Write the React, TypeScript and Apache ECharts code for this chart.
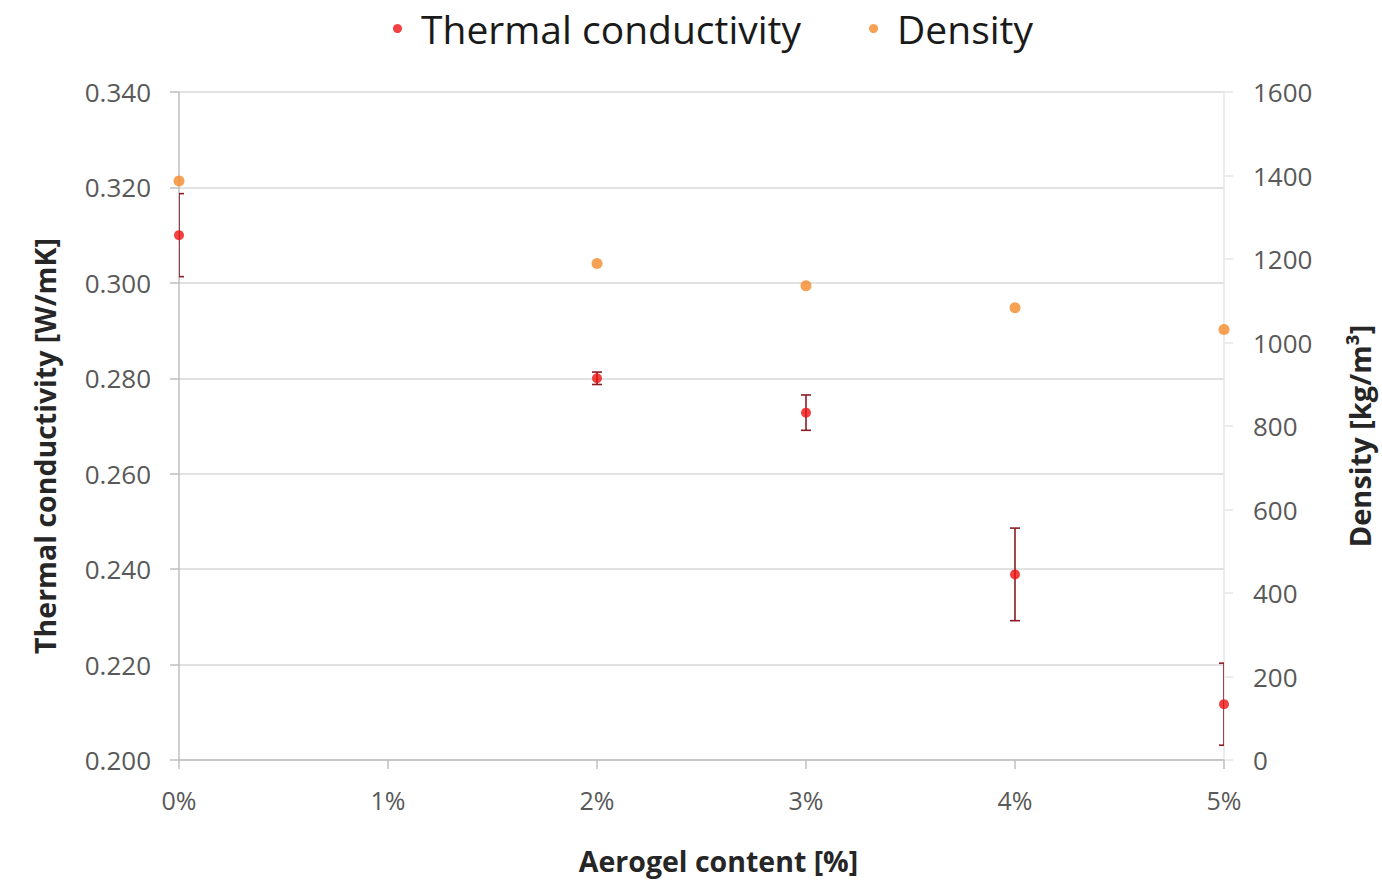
import React, { useEffect, useRef } from "react";
import * as echarts from "echarts";

const aerogelContent = [0, 2, 3, 4, 5];
const conductivity = [0.31, 0.28, 0.2728, 0.2389, 0.2117];
const conductivityErr = [0.0087, 0.0013, 0.0037, 0.0097, 0.0086];
const density = [1387, 1189, 1136, 1083, 1031];

const FONT = "Open Sans";

export default function App() {
  const ref = useRef<HTMLDivElement>(null);
  useEffect(() => {
    document.body.style.margin = "0";
    const chart = echarts.init(ref.current!, null, { renderer: "svg" });
    const condData = aerogelContent.map((x, i) => [x, conductivity[i]]);
    const densData = aerogelContent.map((x, i) => [x, density[i]]);
    const errData = aerogelContent.map((x, i) => [
      x,
      conductivity[i] - conductivityErr[i],
      conductivity[i] + conductivityErr[i],
    ]);
    chart.setOption({
      animation: false,
      backgroundColor: "#ffffff",
      legend: {
        top: 4,
        left: 388,
        itemWidth: 9,
        itemHeight: 9,
        itemGap: 68,
        textStyle: {
          fontFamily: FONT,
          fontSize: 39,
          color: "#1a1a1a",
          padding: [0, 0, 0, 14],
        },
        data: [
          { name: "Thermal conductivity", icon: "circle" },
          { name: "Density", icon: "circle" },
        ],
      },
      grid: { left: 179, right: 155, top: 92, bottom: 119, containLabel: false },
      xAxis: {
        type: "value",
        min: 0,
        max: 5,
        interval: 1,
        name: "Aerogel content [%]",
        nameLocation: "middle",
        nameGap: 86,
        nameTextStyle: {
          fontFamily: FONT,
          fontSize: 28.5,
          fontWeight: "bold",
          color: "#262626",
          padding: [0, 0, 0, 34],
        },
        axisLine: { show: true, lineStyle: { color: "#bfbfbf", width: 1.5 } },
        axisTick: { show: true, length: 9, lineStyle: { color: "#bfbfbf", width: 1.5 } },
        axisLabel: {
          margin: 27,
          fontFamily: FONT,
          fontSize: 25,
          color: "#595959",
          formatter: (v: number) => `${v}%`,
        },
        splitLine: { show: false },
      },
      yAxis: [
        {
          type: "value",
          min: 0.2,
          max: 0.34,
          interval: 0.02,
          position: "left",
          name: "Thermal conductivity [W/mK]",
          nameLocation: "middle",
          nameRotate: 90,
          nameGap: 120,
          nameTextStyle: {
            fontFamily: FONT,
            fontSize: 28.5,
            fontWeight: "bold",
            color: "#262626",
            padding: [0, 40, 0, 0],
          },
          axisLine: { show: true, lineStyle: { color: "#bfbfbf", width: 1.5 } },
          axisTick: { show: true, length: 9, lineStyle: { color: "#bfbfbf", width: 1.5 } },
          axisLabel: {
            margin: 28,
            fontFamily: FONT,
            fontSize: 26,
            color: "#595959",
            formatter: (v: number) => v.toFixed(3),
          },
          splitLine: { show: true, lineStyle: { color: "#d9d9d9", width: 1.5 } },
        },
        {
          type: "value",
          min: 0,
          max: 1600,
          interval: 200,
          position: "right",
          name: "Density [kg/m³]",
          nameLocation: "middle",
          nameRotate: 90,
          nameGap: 121,
          nameTextStyle: {
            fontFamily: FONT,
            fontSize: 29,
            fontWeight: "bold",
            color: "#262626",
            padding: [0, 20, 0, 0],
          },
          axisLine: { show: true, lineStyle: { color: "#e6e6e6", width: 1.5 } },
          axisTick: { show: true, length: 9, lineStyle: { color: "#e6e6e6", width: 1.5 } },
          axisLabel: {
            margin: 29,
            fontFamily: FONT,
            fontSize: 26,
            color: "#595959",
            formatter: (v: number) => String(v),
          },
          splitLine: { show: false },
        },
      ],
      series: [
        {
          name: "Thermal conductivity error",
          type: "custom",
          xAxisIndex: 0,
          yAxisIndex: 0,
          clip: true,
          data: errData,
          z: 2,
          renderItem: (params: any, api: any) => {
            const x = api.value(0);
            const lo = api.coord([x, api.value(1)]);
            const hi = api.coord([x, api.value(2)]);
            const hw = 5;
            const style = { stroke: "#8b1c24", lineWidth: 1.6 };
            const cs = params.coordSys;
            return {
              type: "group",
              clipPath: {
                type: "rect",
                shape: { x: cs.x, y: cs.y - 20, width: cs.width, height: cs.height + 40 },
              },
              children: [
                { type: "line", shape: { x1: lo[0], y1: lo[1], x2: hi[0], y2: hi[1] }, style },
                { type: "line", shape: { x1: hi[0] - hw, y1: hi[1], x2: hi[0] + hw, y2: hi[1] }, style },
                { type: "line", shape: { x1: lo[0] - hw, y1: lo[1], x2: lo[0] + hw, y2: lo[1] }, style },
              ],
            };
          },
        },
        {
          name: "Thermal conductivity",
          type: "scatter",
          xAxisIndex: 0,
          yAxisIndex: 0,
          symbol: "circle",
          symbolSize: 10,
          itemStyle: { color: "#ee1111" },
          data: condData,
          z: 3,
        },
        {
          name: "Density",
          type: "scatter",
          xAxisIndex: 0,
          yAxisIndex: 1,
          symbol: "circle",
          symbolSize: 11,
          itemStyle: { color: "#f58a2a" },
          data: densData,
          z: 3,
        },
      ],
    });
    return () => chart.dispose();
  }, []);
  return <div ref={ref} style={{ width: 1382, height: 880 }} />;
}
